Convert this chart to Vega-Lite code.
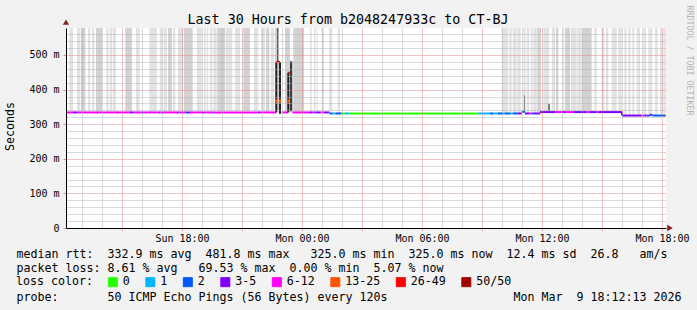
{
  "$schema": "https://vega.github.io/schema/vega-lite/v6.json",
  "width": 600,
  "height": 200,
  "autosize": {"type": "none"},
  "padding": {"left": 66, "top": 28, "right": 31, "bottom": 82},
  "background": "#f2f2f2",
  "config": {
    "view": {"stroke": null, "fill": "#ffffff"},
    "font": "DejaVu Sans Mono"
  },
  "datasets": {
    "smoke": [
      {"t0":0.165,"t1":0.35,"lo":337,"hi":600,"d":1},{"t0":0.55,"t1":0.715,"lo":337,"hi":600,"d":1},{"t0":0.75,"t1":0.965,"lo":337,"hi":600,"d":2},{"t0":1.1,"t1":1.215,"lo":337,"hi":600,"d":1},{"t0":1.3,"t1":1.415,"lo":337,"hi":600,"d":1},{"t0":1.5,"t1":1.8,"lo":337,"hi":600,"d":2},{"t0":2.015,"t1":2.135,"lo":337,"hi":600,"d":1},{"t0":2.185,"t1":2.3,"lo":337,"hi":600,"d":1},{"t0":2.335,"t1":2.5,"lo":337,"hi":600,"d":1},{"t0":2.965,"t1":3.3,"lo":337,"hi":600,"d":2},{"t0":3.5,"t1":3.685,"lo":337,"hi":600,"d":1},{"t0":4.165,"t1":4.55,"lo":337,"hi":600,"d":1},{"t0":4.685,"t1":4.8,"lo":337,"hi":600,"d":1},{"t0":4.885,"t1":5.05,"lo":337,"hi":600,"d":1},{"t0":5.1,"t1":5.3,"lo":337,"hi":600,"d":2},{"t0":5.35,"t1":5.465,"lo":337,"hi":600,"d":1},{"t0":5.6,"t1":5.865,"lo":337,"hi":600,"d":1},{"t0":5.9,"t1":6.335,"lo":337,"hi":600,"d":2},{"t0":6.535,"t1":6.785,"lo":337,"hi":600,"d":1},{"t0":6.9,"t1":6.985,"lo":337,"hi":600,"d":1},{"t0":7.035,"t1":7.115,"lo":337,"hi":600,"d":1},{"t0":7.2,"t1":7.315,"lo":337,"hi":600,"d":1},{"t0":7.365,"t1":7.535,"lo":337,"hi":600,"d":1},{"t0":7.565,"t1":7.95,"lo":337,"hi":600,"d":2},{"t0":7.985,"t1":8.315,"lo":337,"hi":600,"d":1},{"t0":8.45,"t1":8.7,"lo":337,"hi":600,"d":1},{"t0":8.865,"t1":9.2,"lo":337,"hi":600,"d":2},{"t0":9.4,"t1":9.615,"lo":337,"hi":600,"d":1},{"t0":9.75,"t1":9.95,"lo":337,"hi":600,"d":1},{"t0":10.0,"t1":10.165,"lo":337,"hi":600,"d":2},{"t0":10.235,"t1":10.4,"lo":337,"hi":600,"d":1},{"t0":10.45,"t1":10.65,"lo":337,"hi":600,"d":2},{"t0":10.95,"t1":11.2,"lo":337,"hi":600,"d":2},{"t0":11.365,"t1":11.9,"lo":337,"hi":600,"d":2},{"t0":12.2,"t1":12.285,"lo":337,"hi":600,"d":1},{"t0":12.4,"t1":12.485,"lo":337,"hi":600,"d":1},{"t0":12.535,"t1":12.585,"lo":337,"hi":600,"d":1},{"t0":12.785,"t1":12.9,"lo":337,"hi":600,"d":1},{"t0":13.15,"t1":13.315,"lo":337,"hi":600,"d":1},{"t0":13.585,"t1":13.7,"lo":337,"hi":600,"d":1},
      {"t0":21.785,"t1":22.115,"lo":334,"hi":600,"d":1},{"t0":22.165,"t1":22.285,"lo":334,"hi":600,"d":1},{"t0":22.335,"t1":22.535,"lo":334,"hi":600,"d":1},{"t0":22.565,"t1":22.735,"lo":334,"hi":600,"d":1},{"t0":22.865,"t1":22.985,"lo":334,"hi":600,"d":1},{"t0":23.035,"t1":23.165,"lo":334,"hi":600,"d":1},{"t0":23.235,"t1":23.335,"lo":334,"hi":600,"d":1},{"t0":23.365,"t1":23.535,"lo":334,"hi":600,"d":1},{"t0":23.565,"t1":23.75,"lo":334,"hi":600,"d":2},
      {"t0":23.865,"t1":24.165,"lo":338,"hi":600,"d":1},{"t0":24.285,"t1":24.45,"lo":338,"hi":600,"d":1},{"t0":24.5,"t1":24.615,"lo":338,"hi":600,"d":2},{"t0":24.835,"t1":24.9,"lo":338,"hi":600,"d":1},{"t0":24.95,"t1":25.2,"lo":338,"hi":600,"d":2},{"t0":25.25,"t1":25.535,"lo":338,"hi":600,"d":1},{"t0":25.565,"t1":25.785,"lo":338,"hi":600,"d":1},{"t0":25.815,"t1":26.285,"lo":338,"hi":600,"d":2},{"t0":26.415,"t1":26.535,"lo":338,"hi":600,"d":1},{"t0":26.785,"t1":26.915,"lo":338,"hi":600,"d":1},{"t0":27.0,"t1":27.115,"lo":338,"hi":600,"d":1},{"t0":27.285,"t1":27.535,"lo":338,"hi":600,"d":1},{"t0":27.615,"t1":27.785,"lo":338,"hi":600,"d":1},
      {"t0":27.915,"t1":28.035,"lo":328,"hi":600,"d":1},{"t0":28.115,"t1":28.235,"lo":328,"hi":600,"d":1},{"t0":28.315,"t1":28.415,"lo":328,"hi":600,"d":1},{"t0":28.535,"t1":28.7,"lo":328,"hi":600,"d":1},{"t0":28.865,"t1":29.0,"lo":328,"hi":600,"d":1},{"t0":29.115,"t1":29.315,"lo":328,"hi":600,"d":1},{"t0":29.45,"t1":29.585,"lo":328,"hi":600,"d":1},{"t0":29.7,"t1":29.815,"lo":328,"hi":600,"d":1},{"t0":29.865,"t1":29.985,"lo":328,"hi":600,"d":1},
      {"t0":10.56,"t1":10.61,"lo":480,"hi":600,"d":4},{"t0":11.2,"t1":11.315,"lo":337,"hi":482,"d":4},{"t0":22.9,"t1":22.95,"lo":334,"hi":384,"d":3},{"t0":24.1,"t1":24.2,"lo":338,"hi":358,"d":3}
    ],
    "median": [
      {"t0":0.05,"t1":0.35,"v0":334,"v1":334,"loss":"6-12"},{"t0":0.35,"t1":0.585,"v0":334,"v1":334,"loss":"3-5"},{"t0":0.585,"t1":1.55,"v0":334,"v1":334,"loss":"6-12"},{"t0":1.55,"t1":1.6,"v0":334,"v1":334,"loss":"3-5"},{"t0":1.6,"t1":2.55,"v0":334,"v1":334,"loss":"6-12"},{"t0":2.55,"t1":2.6,"v0":334,"v1":334,"loss":"3-5"},{"t0":2.6,"t1":3.185,"v0":334,"v1":334,"loss":"6-12"},{"t0":3.185,"t1":3.35,"v0":334,"v1":334,"loss":"3-5"},{"t0":3.35,"t1":3.8,"v0":334,"v1":334,"loss":"6-12"},{"t0":3.8,"t1":3.885,"v0":334,"v1":334,"loss":"3-5"},{"t0":3.885,"t1":4.165,"v0":334,"v1":334,"loss":"6-12"},{"t0":4.165,"t1":4.265,"v0":334,"v1":334,"loss":"3-5"},{"t0":4.265,"t1":4.635,"v0":334,"v1":334,"loss":"6-12"},{"t0":4.635,"t1":4.715,"v0":334,"v1":334,"loss":"3-5"},{"t0":4.715,"t1":4.8,"v0":334,"v1":334,"loss":"6-12"},{"t0":4.8,"t1":4.85,"v0":334,"v1":334,"loss":"3-5"},{"t0":4.85,"t1":5.55,"v0":334,"v1":334,"loss":"6-12"},{"t0":5.55,"t1":5.635,"v0":334,"v1":334,"loss":"3-5"},{"t0":5.635,"t1":6.0,"v0":334,"v1":334,"loss":"6-12"},{"t0":6.0,"t1":6.1,"v0":334,"v1":334,"loss":"2"},{"t0":6.1,"t1":6.2,"v0":334,"v1":334,"loss":"3-5"},{"t0":6.2,"t1":6.8,"v0":334,"v1":334,"loss":"6-12"},{"t0":6.8,"t1":6.9,"v0":334,"v1":334,"loss":"3-5"},{"t0":6.9,"t1":7.285,"v0":334,"v1":334,"loss":"6-12"},{"t0":7.285,"t1":7.365,"v0":334,"v1":334,"loss":"3-5"},{"t0":7.365,"t1":9.585,"v0":334,"v1":334,"loss":"6-12"},{"t0":9.585,"t1":9.7,"v0":334,"v1":334,"loss":"3-5"},{"t0":9.7,"t1":10.5,"v0":334,"v1":334,"loss":"6-12"},
      {"t0":10.515,"t1":10.515,"v0":334,"v1":480,"loss":"edge"},{"t0":10.515,"t1":10.7,"v0":480,"v1":480,"loss":"26-49"},{"t0":10.7,"t1":10.7,"v0":480,"v1":330,"loss":"edge"},{"t0":10.5,"t1":10.5,"v0":362,"v1":372,"loss":"13-25"},{"t0":10.7,"t1":10.7,"v0":362,"v1":372,"loss":"13-25"},
      {"t0":10.785,"t1":11.115,"v0":334,"v1":334,"loss":"6-12"},
      {"t0":11.115,"t1":11.115,"v0":334,"v1":449,"loss":"edge"},{"t0":11.115,"t1":11.2,"v0":449,"v1":449,"loss":"26-49"},{"t0":11.115,"t1":11.115,"v0":362,"v1":372,"loss":"13-25"},
      {"t0":11.315,"t1":12.2,"v0":334,"v1":334,"loss":"6-12"},{"t0":12.2,"t1":12.335,"v0":334,"v1":334,"loss":"3-5"},{"t0":12.335,"t1":12.5,"v0":334,"v1":334,"loss":"6-12"},{"t0":12.5,"t1":12.7,"v0":334,"v1":334,"loss":"3-5"},{"t0":12.7,"t1":12.865,"v0":334,"v1":334,"loss":"6-12"},{"t0":12.865,"t1":13.165,"v0":334,"v1":334,"loss":"3-5"},
      {"t0":13.165,"t1":13.335,"v0":331,"v1":331,"loss":"2"},{"t0":13.335,"t1":13.5,"v0":331,"v1":331,"loss":"1"},{"t0":13.5,"t1":13.785,"v0":331,"v1":331,"loss":"2"},{"t0":13.785,"t1":13.95,"v0":331,"v1":331,"loss":"0"},{"t0":13.95,"t1":14.165,"v0":331,"v1":331,"loss":"1"},{"t0":14.165,"t1":20.615,"v0":331,"v1":331,"loss":"0"},{"t0":20.615,"t1":21.2,"v0":331,"v1":331,"loss":"1"},{"t0":21.2,"t1":21.35,"v0":331,"v1":331,"loss":"2"},{"t0":21.35,"t1":21.6,"v0":331,"v1":331,"loss":"1"},{"t0":21.6,"t1":21.85,"v0":331,"v1":331,"loss":"2"},{"t0":21.85,"t1":21.95,"v0":331,"v1":331,"loss":"1"},{"t0":21.95,"t1":22.2,"v0":331,"v1":331,"loss":"2"},{"t0":22.2,"t1":22.335,"v0":331,"v1":331,"loss":"1"},{"t0":22.335,"t1":22.565,"v0":331,"v1":331,"loss":"2"},{"t0":22.565,"t1":22.785,"v0":331,"v1":331,"loss":"3-5"},{"t0":22.785,"t1":22.95,"v0":336,"v1":336,"loss":"2"},{"t0":22.95,"t1":23.165,"v0":331,"v1":331,"loss":"3-5"},{"t0":23.165,"t1":23.285,"v0":331,"v1":331,"loss":"6-12"},{"t0":23.285,"t1":23.4,"v0":331,"v1":331,"loss":"2"},{"t0":23.4,"t1":23.7,"v0":331,"v1":331,"loss":"3-5"},
      {"t0":23.7,"t1":24.45,"v0":335,"v1":335,"loss":"3-5"},{"t0":24.45,"t1":24.785,"v0":335,"v1":335,"loss":"6-12"},{"t0":24.785,"t1":24.95,"v0":335,"v1":335,"loss":"3-5"},{"t0":24.95,"t1":25.365,"v0":335,"v1":335,"loss":"6-12"},{"t0":25.365,"t1":26.035,"v0":335,"v1":335,"loss":"3-5"},{"t0":26.035,"t1":26.2,"v0":335,"v1":335,"loss":"6-12"},{"t0":26.2,"t1":26.535,"v0":335,"v1":335,"loss":"3-5"},{"t0":26.535,"t1":26.65,"v0":335,"v1":335,"loss":"6-12"},{"t0":26.65,"t1":27.8,"v0":335,"v1":335,"loss":"3-5"},
      {"t0":27.8,"t1":27.8,"v0":335,"v1":325,"loss":"3-5"},
      {"t0":27.8,"t1":28.785,"v0":325,"v1":325,"loss":"3-5"},{"t0":28.785,"t1":28.915,"v0":325,"v1":325,"loss":"6-12"},{"t0":28.915,"t1":29.035,"v0":325,"v1":325,"loss":"3-5"},{"t0":29.035,"t1":29.2,"v0":325,"v1":325,"loss":"2"},{"t0":29.2,"t1":29.315,"v0":327,"v1":327,"loss":"3-5"},{"t0":29.315,"t1":29.985,"v0":325,"v1":325,"loss":"2"}
    ],
    "xend": [{"t": 30.2, "v": 0}],
    "yend": [{"t": 0, "v": 595}]
  },
  "resolve": {"axis": {"x": "independent", "y": "independent"}},
  "layer": [
    {
      "data": {"name": "smoke"},
      "mark": {"type": "rect", "clip": true},
      "encoding": {
        "x": {
          "field": "t0", "type": "quantitative",
          "scale": {"domain": [0, 30], "nice": false, "zero": false},
          "axis": {
            "orient": "bottom",
            "zindex": 1,
            "values": [0.8,1.8,2.8,3.8,4.8,5.8,6.8,7.8,8.8,9.8,10.8,11.8,12.8,13.8,14.8,15.8,16.8,17.8,18.8,19.8,20.8,21.8,22.8,23.8,24.8,25.8,26.8,27.8,28.8,29.8],
            "domainColor": "#000000",
            "domainWidth": 1,
            "grid": true,
            "gridColor": {"condition": {"test": "round(datum.value+0.2)%3==0", "value": "#e08888"}, "value": "#b4b4b4"},
            "gridDash": [1, 1],
            "gridWidth": 1,
            "ticks": true,
            "tickSize": 2,
            "tickColor": {"condition": {"test": "round(datum.value+0.2)%3==0", "value": "#e08888"}, "value": "transparent"},
            "labelExpr": "round(datum.value+0.2)%6==0 ? ['Sun 18:00','Mon 00:00','Mon 06:00','Mon 12:00','Mon 18:00'][round(datum.value+0.2)/6-1] : ''",
            "labelFont": "DejaVu Sans Mono",
            "labelFontSize": 10,
            "labelColor": "#000000",
            "labelPadding": 3.5,
            "labelOverlap": false,
            "labelFlush": false,
            "title": [
              "median rtt:\u00a0\u00a0332.9 ms avg\u00a0\u00a0481.8 ms max\u00a0\u00a0\u00a0325.0 ms min\u00a0\u00a0325.0 ms now\u00a0\u00a012.4 ms sd\u00a0\u00a026.8\u00a0\u00a0\u00a0am/s",
              "packet loss: 8.61 % avg\u00a0\u00a0\u00a069.53 % max\u00a0\u00a00.00 % min\u00a0\u00a05.07 % now"
            ],
            "titleX": -50,
            "titleY": 29,
            "titleAlign": "left",
            "titleAnchor": "start",
            "titleBaseline": "alphabetic",
            "titleFont": "DejaVu Sans Mono",
            "titleFontSize": 11.63,
            "titleFontWeight": "normal",
            "titleColor": "#000000",
            "titleLineHeight": 14.5,
            "titleLimit": 2000
          }
        },
        "x2": {"field": "t1"},
        "y": {
          "field": "lo", "type": "quantitative",
          "scale": {"domain": [0, 578], "nice": false, "zero": true},
          "axis": {
            "orient": "left",
            "zindex": 1,
            "values": [0,20,40,60,80,100,120,140,160,180,200,220,240,260,280,300,320,340,360,380,400,420,440,460,480,500,520,540,560],
            "domainColor": "#000000",
            "grid": true,
            "gridColor": {"condition": {"test": "datum.value%100==0", "value": "#e08888"}, "value": "#b4b4b4"},
            "gridDash": [1, 1],
            "tickSize": 3,
            "tickColor": {"condition": {"test": "datum.value%100==0", "value": "#e08888"}, "value": "transparent"},
            "labelExpr": "datum.value%100==0 ? (datum.value==0 ? '0' : datum.value + ' m') : ''",
            "labelFont": "DejaVu Sans Mono",
            "labelFontSize": 10,
            "labelColor": "#000000",
            "labelPadding": 4,
            "labelOverlap": false,
            "labelFlush": false,
            "title": "Seconds",
            "titleX": -55.5,
            "titleY": 98,
            "titleAngle": -90,
            "titleAlign": "center",
            "titleBaseline": "middle",
            "titleFont": "DejaVu Sans Mono",
            "titleFontSize": 11.63,
            "titleFontWeight": "normal",
            "titleColor": "#000000"
          }
        },
        "y2": {"field": "hi"},
        "fill": {
          "field": "d", "type": "ordinal",
          "scale": {"domain": [1, 2, 3, 4], "range": ["#e2e2e2", "#d2d2d2", "#808080", "#3a3a3a"]},
          "legend": null
        }
      }
    },
    {
      "data": {"name": "median"},
      "mark": {"type": "rule", "strokeWidth": 2},
      "encoding": {
        "x": {
          "field": "t0", "type": "quantitative", "scale": {"domain": [0, 30], "nice": false, "zero": false},
          "axis": {
            "orient": "bottom",
            "domain": false, "ticks": false, "labels": false, "grid": false,
            "title": "probe:\u00a0\u00a0\u00a0\u00a0\u00a0\u00a0\u00a050 ICMP Echo Pings (56 Bytes) every 120s\u00a0\u00a0\u00a0\u00a0\u00a0\u00a0\u00a0\u00a0\u00a0\u00a0\u00a0\u00a0\u00a0\u00a0\u00a0\u00a0\u00a0\u00a0Mon Mar\u00a0\u00a09 18:12:13 2026",
            "titleX": -50,
            "titleY": 72.5,
            "titleAlign": "left",
            "titleAnchor": "start",
            "titleBaseline": "alphabetic",
            "titleFont": "DejaVu Sans Mono",
            "titleFontSize": 11.63,
            "titleFontWeight": "normal",
            "titleColor": "#000000",
            "titleLimit": 2000
          }
        },
        "x2": {"field": "t1"},
        "y": {"field": "v0", "type": "quantitative", "scale": {"domain": [0, 578], "nice": false, "zero": true}, "axis": null},
        "y2": {"field": "v1"},
        "color": {
          "field": "loss", "type": "nominal",
          "scale": {
            "domain": ["0", "1", "2", "3-5", "6-12", "13-25", "26-49", "50/50", "edge"],
            "range": ["#26ff00", "#00b8ff", "#0059ff", "#7e00ff", "#ff00ff", "#ff5500", "#ff0000", "#a10000", "#202020"]
          },
          "legend": {
            "orient": "none",
            "legendX": -50,
            "legendY": 248,
            "direction": "horizontal",
            "title": "loss color:",
            "titleOrient": "left",
            "titleAnchor": "middle",
            "titleBaseline": "middle",
            "titleFont": "DejaVu Sans Mono",
            "titleFontSize": 11.63,
            "titleFontWeight": "normal",
            "titleColor": "#000000",
            "titlePadding": 14,
            "values": ["0", "1", "2", "3-5", "6-12", "13-25", "26-49", "50/50"],
            "symbolType": "square",
            "symbolSize": 81,
            "symbolStrokeWidth": 1,
            "symbolStrokeColor": "#000000",
            "labelFont": "DejaVu Sans Mono",
            "labelFontSize": 11.63,
            "labelColor": "#000000",
            "labelOffset": 4,
            "columnPadding": 13.5,
            "padding": 0,
            "encode": {
              "symbols": {
                "update": {
                  "fill": {"scale": "color", "field": "value"},
                  "stroke": {"value": "#000000"},
                  "strokeWidth": {"value": 1},
                  "opacity": {"value": 1}
                }
              }
            }
          }
        }
      }
    },
    {
      "data": {"name": "xend"},
      "mark": {"type": "point", "shape": "triangle-right", "filled": true, "color": "#822222", "size": 40, "opacity": 1},
      "encoding": {
        "x": {
          "field": "t", "type": "quantitative", "scale": {"domain": [0, 30], "nice": false, "zero": false},
          "axis": {
            "orient": "top",
            "domain": false, "ticks": false, "labels": false, "grid": false,
            "title": "Last 30 Hours from b2048247933c to CT-BJ",
            "titleX": 281.5,
            "titleY": -4.3,
            "titleAlign": "center",
            "titleBaseline": "alphabetic",
            "titleFont": "DejaVu Sans Mono",
            "titleFontSize": 13.33,
            "titleFontWeight": "normal",
            "titleColor": "#000000",
            "titleLimit": 2000
          }
        },
        "y": {"field": "v", "type": "quantitative", "scale": {"domain": [0, 578], "nice": false, "zero": true}, "axis": null}
      }
    },
    {
      "data": {"name": "yend"},
      "mark": {"type": "point", "shape": "triangle-up", "filled": true, "color": "#822222", "size": 40, "opacity": 1},
      "encoding": {
        "x": {"field": "t", "type": "quantitative", "scale": {"domain": [0, 30], "nice": false, "zero": false}, "axis": null},
        "y": {
          "field": "v", "type": "quantitative", "scale": {"domain": [0, 578], "nice": false, "zero": true},
          "axis": {
            "orient": "right",
            "domain": false, "ticks": false, "labels": false, "grid": false,
            "title": "RRDTOOL / TOBI OETIKER",
            "titleX": 22.3,
            "titleY": -23,
            "titleAngle": 90,
            "titleAlign": "left",
            "titleBaseline": "middle",
            "titleFont": "DejaVu Sans Mono",
            "titleFontSize": 8.3,
            "titleFontWeight": "normal",
            "titleColor": "#b4b4b4",
            "titleLimit": 2000
          }
        }
      }
    }
  ]
}
